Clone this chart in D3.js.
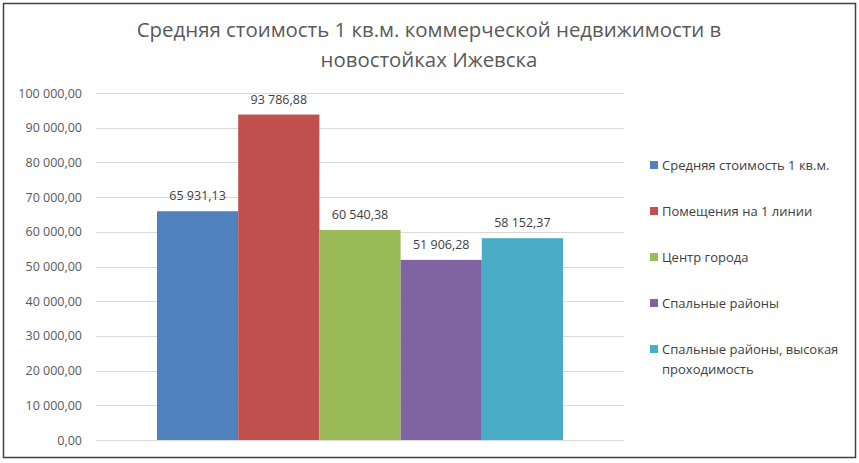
<!DOCTYPE html>
<html lang="ru">
<head>
<meta charset="utf-8">
<title>Средняя стоимость 1 кв.м.</title>
<style>
  body { margin: 0; background: #fff; }
  text { font-family: "Open Sans", "Noto Sans", sans-serif; }
  .grid line { stroke: #d9d9d9; stroke-width: 1; }
  .axis text { fill: #595959; font-size: 12.5px; }
  .lbl { fill: #404040; font-size: 12.5px; }
  .legend text { fill: #404040; font-size: 13px; }
  .title { fill: #595959; font-size: 20.4px; }
</style>
</head>
<body>
<div id="chart"></div>
<script src="https://cdn.jsdelivr.net/npm/d3@7"></script>
<script>
// data
var categories = ["Средняя стоимость 1 кв.м.", "Помещения на 1 линии", "Центр города",
                  "Спальные районы", "Спальные районы, высокая проходимость"];
var values = [65931.13, 93786.88, 60540.38, 51906.28, 58152.37];
var colors = ["#4f81bd", "#c0504d", "#9bbb59", "#8064a2", "#4bacc6"];
var yTicks = [0, 10000, 20000, 30000, 40000, 50000, 60000, 70000, 80000, 90000, 100000];
var titleLines = ["Средняя стоимость 1 кв.м. коммерческой недвижимости в", "новостойках Ижевска"];

var width = 859, height = 463;
var plot = {left: 96, right: 624, top: 93, bottom: 440};

var svg = d3.select("#chart").append("svg")
  .attr("width", width).attr("height", height);

svg.append("rect")
  .attr("x", 3.5).attr("y", 3.5).attr("width", 852).attr("height", 454)
  .attr("fill", "#fff").attr("stroke", "#404040").attr("stroke-width", 1.5);

// title
svg.append("g").selectAll("text").data(titleLines).enter().append("text")
  .attr("class", "title")
  .attr("x", 429).attr("y", function(d, i){ return 37 + i * 30; })
  .attr("text-anchor", "middle")
  .text(function(d){ return d; });

var y = d3.scaleLinear().domain([0, 100000]).range([plot.bottom, plot.top]);

// one category group, bars side by side, gap width 150%
var x = d3.scaleBand().domain(d3.range(categories.length))
  .range([157, 563]).padding(0);

var fmt = function(v, dec){
  var s = d3.format(",." + dec + "f")(v);
  return s.replace(/,/g, " ").replace(".", ",");
};

svg.append("g").attr("class", "grid").selectAll("line").data(yTicks).enter().append("line")
  .attr("x1", plot.left).attr("x2", plot.right)
  .attr("y1", function(d){ return Math.round(y(d)) + 0.5; })
  .attr("y2", function(d){ return Math.round(y(d)) + 0.5; });

var yAxis = d3.axisLeft(y).tickValues(yTicks).tickSize(0).tickPadding(0)
  .tickFormat(function(d){ return fmt(d, 2); });
var ax = svg.append("g").attr("class", "axis")
  .attr("transform", "translate(82,0)").call(yAxis);
ax.select(".domain").remove();

svg.append("g").selectAll("rect").data(values).enter().append("rect")
  .attr("x", function(d, i){ return x(i); })
  .attr("y", function(d){ return y(d); })
  .attr("width", x.bandwidth())
  .attr("height", function(d){ return y(0) - y(d); })
  .attr("fill", function(d, i){ return colors[i]; });

svg.append("g").selectAll("text").data(values).enter().append("text")
  .attr("class", "lbl")
  .attr("x", function(d, i){ return x(i) + x.bandwidth() / 2; })
  .attr("y", function(d){ return y(d) - 11; })
  .attr("text-anchor", "middle")
  .text(function(d){ return fmt(d, 2); });

// legend
var legendLines = [["Средняя стоимость 1 кв.м."], ["Помещения на 1 линии"], ["Центр города"],
                   ["Спальные районы"], ["Спальные районы, высокая", "проходимость"]];
var lg = svg.append("g").attr("class", "legend").selectAll("g").data(legendLines).enter().append("g")
  .attr("transform", function(d, i){ return "translate(650," + (165 + i * 46) + ")"; });
lg.append("rect").attr("x", 0).attr("y", -4).attr("width", 8).attr("height", 8)
  .attr("fill", function(d, i){ return colors[i]; });
lg.each(function(d){
  var t = d3.select(this).append("text").attr("x", 12).attr("y", 4.5);
  d.forEach(function(line, j){
    t.append("tspan").attr("x", 12).attr("dy", j ? 20 : 0).text(line);
  });
});
</script>
</body>
</html>
